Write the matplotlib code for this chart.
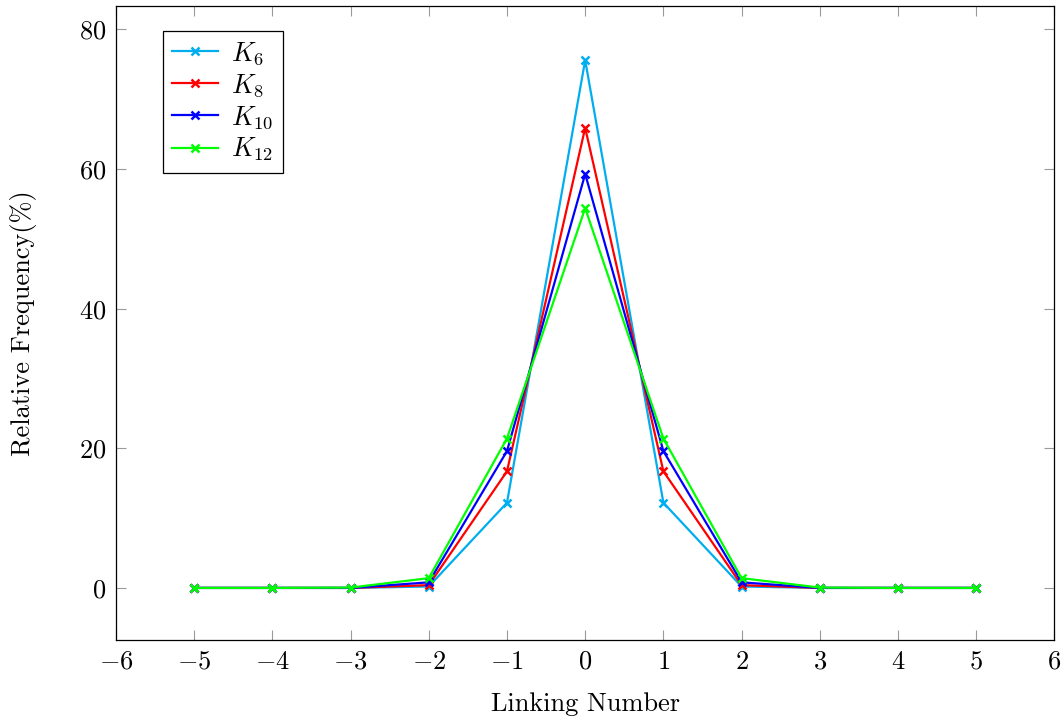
# linking number distribution, K_n graphs
import matplotlib
matplotlib.use('Agg')
from matplotlib import pyplot as plt

plt.rcParams['font.family'] = 'serif'
plt.rcParams['font.serif'] = ['cmr10']
plt.rcParams['mathtext.fontset'] = 'cm'
plt.rcParams['axes.formatter.use_mathtext'] = True

linking = [-5, -4, -3, -2, -1, 0, 1, 2, 3, 4, 5]
k6 = [0, 0, 0, 0.2, 12.2, 75.6, 12.2, 0.2, 0, 0, 0]
k8 = [0, 0, 0, 0.4, 16.7, 65.9, 16.7, 0.4, 0, 0, 0]
k10 = [0, 0, 0, 0.8, 19.6, 59.3, 19.6, 0.8, 0, 0, 0]
k12 = [0, 0, 0.05, 1.4, 21.4, 54.4, 21.4, 1.4, 0.05, 0, 0]

series = [(k6, '#00AEEF', '$K_6$'), (k8, '#FF0000', '$K_8$'),
          (k10, '#0000FF', '$K_{10}$'), (k12, '#00FF00', '$K_{12}$')]

fig = plt.figure(figsize=(10.63, 7.17), dpi=100)
ax = fig.add_axes([0.109, 0.107, 0.883, 0.884])
for vals, c, lab in series:
    ax.plot(linking, vals, color=c, lw=1.6, marker='x', ms=6, mew=1.8, label=lab)

ax.set_xlim(-6, 6)
ax.set_ylim(-7.5, 83.3)
ax.set_xticks(range(-6, 7))
ax.set_yticks([0, 20, 40, 60, 80])
ax.tick_params(direction='in', top=True, right=True, labelsize=19, length=7,
               width=0.8, color='#9a9a9a', pad=7)
for s in ax.spines.values():
    s.set_linewidth(0.9)
ax.set_xlabel('Linking Number', fontsize=19, labelpad=13)
ax.set_ylabel('Relative Frequency(%)', fontsize=19, labelpad=30)
leg = ax.legend(loc='upper left', bbox_to_anchor=(0.05, 0.962), fontsize=19,
                fancybox=False, edgecolor='black', framealpha=1,
                handlelength=1.75, handletextpad=0.5, labelspacing=0.2,
                borderpad=0.35, borderaxespad=0)
leg.get_frame().set_linewidth(0.9)

plt.savefig('out.png', dpi=100)
